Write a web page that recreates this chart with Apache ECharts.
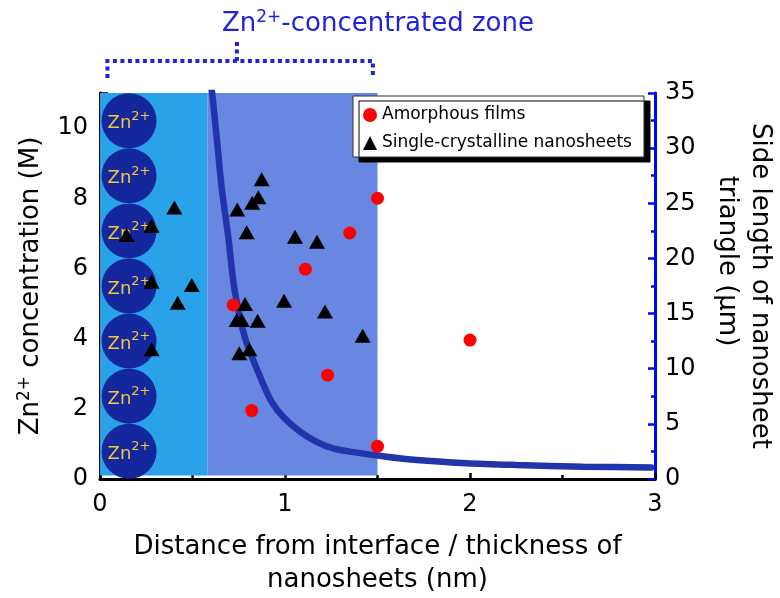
<!DOCTYPE html>
<html><head><meta charset="utf-8">
<script src="https://cdn.jsdelivr.net/npm/echarts@6/dist/echarts.min.js"></script>
<style>html,body{margin:0;padding:0;background:#fff}#c{width:780px;height:598px}</style>
</head><body><div id="c"></div>
<script>
// ---- data ----
const amorphous = [[1.50,8.00],[1.35,7.01],[1.11,5.98],[0.72,4.96],[1.23,2.96],[0.82,1.95],[1.50,0.93],[2.00,3.96]];
const singleCrystal = [
  [0.144,6.95],[0.279,7.22],[0.402,7.74],[0.279,5.62],[0.496,5.53],[0.420,5.02],[0.279,3.70],
  [0.874,8.54],[0.856,8.03],[0.823,7.87],[0.742,7.68],[0.793,7.03],[1.054,6.90],[1.173,6.76],
  [0.784,4.99],[0.995,5.08],[1.216,4.77],[0.739,4.53],[0.766,4.53],[0.852,4.51],[1.420,4.08],
  [0.753,3.58],[0.807,3.70]
];
const curveX = [0.590,0.607,0.631,0.658,0.694,0.726,0.784,0.876,0.930,0.991,1.081,1.171,1.261,1.351,1.514,1.712,1.982,2.252,2.612,2.980];
const curveY = [11.60,10.95,9.72,8.29,6.87,5.44,4.02,2.78,2.18,1.77,1.35,1.06,0.87,0.78,0.66,0.54,0.45,0.40,0.35,0.33];
const znX = 0.157;
const znY = [0.79,2.36,3.93,5.50,7.07,8.64,10.21];
const zoneEdges = [0, 0.58, 1.5];
const zoneBottom = 0.1;
const bracketX = [0.04, 0.74, 1.475];
const xName = 'Distance from interface / thickness of\nnanosheets (nm)';
const yLeftName = 'Zn{s|2+} concentration (M)';
const yRightName1 = 'Side length of nanosheet';
const yRightName2 = 'triangle (\u00b5m)';
const titleText = 'Zn{s|2+}-concentrated zone';
const legendNames = ['Amorphous films','Single-crystalline nanosheets'];

const FONT = 'DejaVu Sans';
const BLUE = '#2121e0';
const chart = echarts.init(document.getElementById('c'));
const zoneColors = ['#2aa2ea','#6887e0'];
const zoneData = [[zoneEdges[0], zoneEdges[1], 0],[zoneEdges[1], zoneEdges[2], 1]];

chart.setOption({
  animation:false,
  textStyle:{fontFamily:FONT},
  title:{text:titleText, left:217, top:4,
    textStyle:{fontFamily:FONT,fontSize:26,fontWeight:'normal',color:BLUE,lineHeight:30,
      rich:{s:{fontFamily:FONT,fontSize:17,color:BLUE,verticalAlign:'top',lineHeight:16}}}},
  grid:{left:100,right:125,top:93,bottom:119,containLabel:false,outerBoundsMode:'none'},
  legend:{data:legendNames, orient:'vertical', left:353, top:96,
    itemWidth:14,itemHeight:14,itemGap:8,
    padding:[9,12,4,10], backgroundColor:'#fff', borderColor:'#333', borderWidth:1,
    shadowColor:'#000', shadowOffsetX:6, shadowOffsetY:5, shadowBlur:0,
    textStyle:{fontFamily:FONT,fontSize:17,color:'#000',lineHeight:20}},
  xAxis:{type:'value',min:0,max:3,interval:1,
    axisLine:{show:true,lineStyle:{color:'#000',width:3}},
    axisTick:{inside:true,length:6,lineStyle:{color:'#000',width:2.5}},
    minorTick:{show:true,splitNumber:2,length:4,lineStyle:{color:'#000',width:2.5}},
    splitLine:{show:false},
    axisLabel:{fontFamily:FONT,fontSize:24,color:'#000',margin:14},
    name:xName,nameLocation:'middle',nameGap:52,
    nameTextStyle:{fontFamily:FONT,fontSize:26,color:'#000',lineHeight:33}},
  yAxis:[
    {type:'value',min:0,max:11,interval:2,position:'left',
      axisLine:{show:true,lineStyle:{color:'#000',width:3}},
      axisTick:{inside:true,length:8,lineStyle:{color:'#000',width:2.5}},
      minorTick:{show:true,splitNumber:4,length:5,lineStyle:{color:'#000',width:2.5}},
      splitLine:{show:false},
      axisLabel:{fontFamily:FONT,fontSize:24,color:'#000',margin:12,showMaxLabel:false,padding:[3,0,0,0]},
      name:yLeftName,nameLocation:'middle',nameRotate:90,nameGap:48,
      nameTextStyle:{fontFamily:FONT,fontSize:26,color:'#000',lineHeight:30,
        rich:{s:{fontFamily:FONT,fontSize:17,color:'#000',verticalAlign:'top',lineHeight:16}}}},
    {type:'value',min:0,max:35,interval:5,position:'right',
      axisLine:{show:true,lineStyle:{color:'#0000ff',width:3}},
      axisTick:{inside:true,length:7,lineStyle:{color:'#0000ff',width:2.5}},
      minorTick:{show:true,splitNumber:2,length:4,lineStyle:{color:'#0000ff',width:2.5}},
      splitLine:{show:false},
      axisLabel:{fontFamily:FONT,fontSize:24,color:'#000',margin:10,padding:[3,0,0,0]},
      name:yRightName1,nameLocation:'middle',nameRotate:-90,nameGap:92,
      nameTextStyle:{fontFamily:FONT,fontSize:26,color:'#000'}}
  ],
  series:[
    {type:'custom',name:'zones',z:1,silent:true,data:zoneData,
      renderItem:function(params,api){
        const p0 = api.coord([api.value(0), 11]);
        const p1 = api.coord([api.value(1), zoneBottom]);
        return {type:'rect',shape:{x:p0[0],y:p0[1],width:p1[0]-p0[0],height:p1[1]-p0[1]},
          style:{fill:zoneColors[api.value(2)]}};
      }, clip:false},
    {type:'scatter',name:'Zn ions',z:2,silent:true,symbol:'circle',symbolSize:55,
      data:znY.map(y=>[znX,y]),itemStyle:{color:'#15279c',opacity:1},
      label:{show:true,position:'inside',formatter:'{a|Zn}{b|2+}',
        rich:{a:{fontFamily:FONT,fontSize:18,color:'#f4c542',lineHeight:22,padding:[6,0,0,0]},
              b:{fontFamily:FONT,fontSize:13,color:'#f4c542',verticalAlign:'top',lineHeight:13}}}},
    {type:'line',name:'curve',z:3,silent:true,showSymbol:false,smooth:0.3,
      data:curveX.map((x,i)=>[x,curveY[i]]),
      lineStyle:{color:'#2234aa',width:6.5,cap:'round'}},
    {type:'scatter',name:legendNames[0],z:4,symbol:'circle',symbolSize:13,
      data:amorphous,itemStyle:{color:'#ff0000',opacity:1}},
    {type:'scatter',name:legendNames[1],z:5,symbol:'triangle',symbolSize:[16,14],
      data:singleCrystal,itemStyle:{color:'#000',opacity:1}}
  ]
});

// annotations placed through the axis scales
const gridTop = chart.convertToPixel({yAxisIndex:0}, 11);
const gridMid = chart.convertToPixel({yAxisIndex:0}, 5.5);
const xa = chart.convertToPixel({xAxisIndex:0}, bracketX[0]);
const xm = chart.convertToPixel({xAxisIndex:0}, bracketX[1]);
const xb = chart.convertToPixel({xAxisIndex:0}, bracketX[2]);
const xr = chart.convertToPixel({xAxisIndex:0}, 3);
const dash = {stroke:BLUE,lineWidth:4,lineDash:[4,3.5],fill:null};
chart.setOption({graphic:[
  {type:'polyline',shape:{points:[[xa,gridTop-15],[xa,gridTop-32],[xb,gridTop-32],[xb,gridTop-15]]},style:dash,silent:true},
  {type:'polyline',shape:{points:[[xm,gridTop-32],[xm,gridTop-51]]},style:dash,silent:true},
  {type:'text',x:xr+72,y:gridMid-25,rotation:-Math.PI/2,silent:true,
    style:{text:yRightName2,fontFamily:FONT,fontSize:26,fill:'#000',align:'center',verticalAlign:'middle'}}
]});
</script></body></html>
